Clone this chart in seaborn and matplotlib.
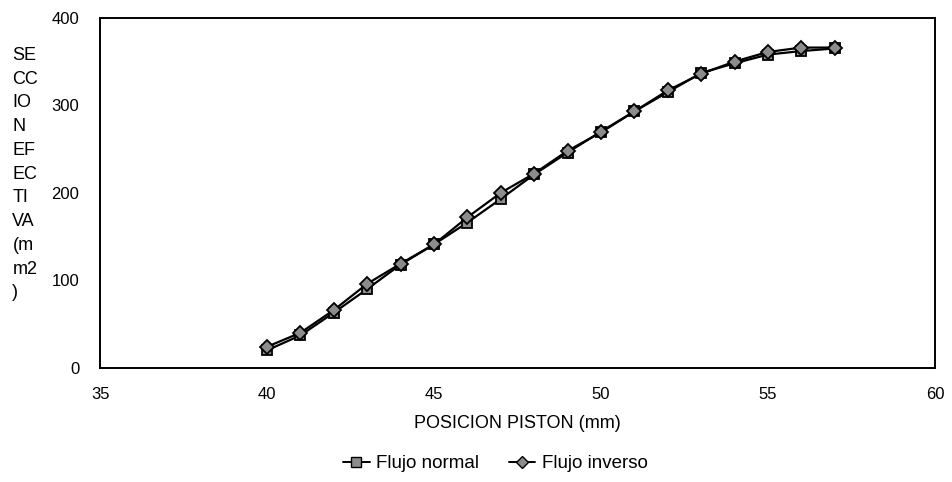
import numpy as np
import pandas as pd
import matplotlib
matplotlib.use("Agg")
import matplotlib.pyplot as plt
import seaborn as sns

# Piston position (mm) and effective section (mm2) for both flow directions
posicion = [40, 41, 42, 43, 44, 45, 46, 47, 48, 49, 50, 51, 52, 53, 54, 55, 56, 57]
flujo_normal = [20, 37, 63, 90, 118, 141, 166, 193, 221, 246, 270, 293, 315, 337, 348, 358, 362, 365]
flujo_inverso = [24, 40, 66, 96, 119, 141, 172, 200, 222, 248, 269, 293, 317, 336, 350, 361, 366, 366]

series_names = ["Flujo normal", "Flujo inverso"]
x_ticks = [35, 40, 45, 50, 55, 60]
y_ticks = [0, 100, 200, 300, 400]

df = pd.DataFrame({
    "pos": posicion * 2,
    "sec": flujo_normal + flujo_inverso,
    "serie": [series_names[0]] * len(posicion) + [series_names[1]] * len(posicion),
})

sns.set_theme(style="white")
plt.rcParams["font.family"] = ["Liberation Sans", "DejaVu Sans"]
plt.rcParams["text.color"] = "black"
plt.rcParams["axes.labelcolor"] = "black"

fig = plt.figure(figsize=(9.53, 4.82), dpi=100)
ax = fig.add_axes([0.105, 0.237, 0.876, 0.726])

sns.lineplot(
    data=df, x="pos", y="sec", hue="serie", style="serie",
    palette=["black", "black"], markers={"Flujo normal": "s", "Flujo inverso": "D"},
    dashes=False, linewidth=1.6, markersize=7.5, markerfacecolor="#8c8c8c",
    markeredgecolor="black", markeredgewidth=1.3, ax=ax, legend=False,
)

ax.set_xlim(35, 60)
ax.set_ylim(0, 400)
ax.set_xticks(x_ticks)
ax.set_yticks(y_ticks)
ax.tick_params(direction="in", length=6, width=1.2, colors="black", labelsize=12)
ax.tick_params(axis="x", pad=14)
ax.tick_params(axis="y", pad=15)
for s in ax.spines.values():
    s.set_color("black")
    s.set_linewidth(1.4)
ax.set_xlabel("POSICION PISTON (mm)", fontsize=13, labelpad=9)
ax.set_ylabel("")

fig.text(0.013, 0.903, "SE\nCC\nIO\nN\nEF\nEC\nTI\nVA\n(m\nm2\n)",
         ha="left", va="top", fontsize=13, linespacing=1.52)

handles = [
    plt.Line2D([], [], color="black", marker="s", markersize=7, markerfacecolor="#8c8c8c",
               markeredgecolor="black", linewidth=1.4),
    plt.Line2D([], [], color="black", marker="D", markersize=6, markerfacecolor="#8c8c8c",
               markeredgecolor="black", linewidth=1.4),
]
fig.legend(handles, series_names, loc="center", bbox_to_anchor=(0.52, 0.038), ncol=2,
           frameon=False, fontsize=13.5, handlelength=1.4, handletextpad=0.35, columnspacing=1.6)

fig.savefig("out.png", dpi=100, facecolor="white")
